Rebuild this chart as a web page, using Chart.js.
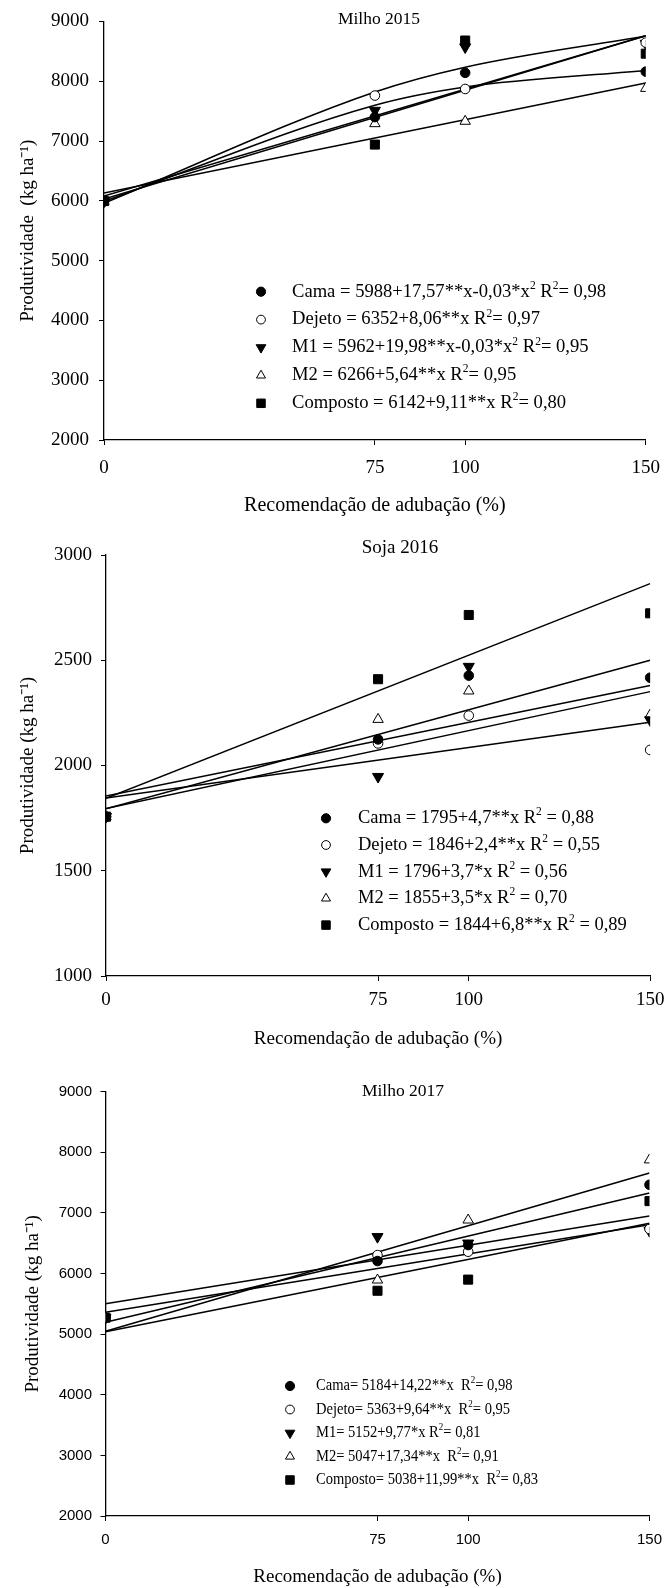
<!DOCTYPE html>
<html><head><meta charset="utf-8">
<script src="https://cdn.jsdelivr.net/npm/chart.js@4.4.1/dist/chart.umd.min.js"></script>
<style>
html,body{margin:0;padding:0;background:#fff;}
#wrap{position:relative;width:672px;height:1588px;overflow:hidden;}
.c{position:absolute;left:0;width:672px;}
canvas{display:block;}
</style></head><body>
<div id="wrap">
<div class="c" style="top:0px;height:520px"><canvas id="c1" width="672" height="520"></canvas></div>
<div class="c" style="top:520px;height:534px"><canvas id="c2" width="672" height="534"></canvas></div>
<div class="c" style="top:1054px;height:534px"><canvas id="c3" width="672" height="534"></canvas></div>
</div>
<script>
// ---------------- DATA ----------------
const doses = [0, 75, 100, 150];
const xTickValues = [0, 75, 100, 150];
const seriesNames = ['Cama', 'Dejeto', 'M1', 'M2', 'Composto'];
const xAxisTitle = 'Recomendação de adubação (%)';
const fitCurveX = [0, 75, 100, 150];
const fitLineX = [0, 150];

// Milho 2015
const m15Title = 'Milho 2015';
const m15YTitle = 'Produtividade  (kg ha⁻¹)';
const m15YTicks = [2000, 3000, 4000, 5000, 6000, 7000, 8000, 9000];
const m15Cama = [5995, 7400, 8140, 8160];
const m15Dejeto = [5990, 7760, 7870, 8645];
const m15M1 = [5990, 7510, 8570, 8630];
const m15M2 = [5990, 7290, 7330, 7880];
const m15Composto = [5995, 6940, 8680, 8460];
const m15FitCama = [5990, 7598, 7903, 8180];      // curve (quadratic)
const m15FitDejeto = [6080, 8760];                // line
const m15FitM1 = [5960, 7820, 8235, 8755];        // curve (quadratic)
const m15FitM2 = [6130, 7970];                    // line
const m15FitComposto = [6030, 8760];              // line
const m15Legend = [
  'Cama = 5988+17,57**x-0,03*x^{2} R^{2}= 0,98',
  'Dejeto = 6352+8,06**x R^{2}= 0,97',
  'M1 = 5962+19,98**x-0,03*x^{2} R^{2}= 0,95',
  'M2 = 6266+5,64**x R^{2}= 0,95',
  'Composto = 6142+9,11**x R^{2}= 0,80'
];

// Soja 2016
const s16Title = 'Soja 2016';
const s16YTitle = 'Produtividade (kg ha⁻¹)';
const s16YTicks = [1000, 1500, 2000, 2500, 3000];
const s16Cama = [1757, 2124, 2427, 2417];
const s16Dejeto = [1757, 2105, 2237, 2074];
const s16M1 = [1757, 1947, 2470, 2216];
const s16M2 = [1757, 2219, 2354, 2240];
const s16Composto = [1757, 2410, 2715, 2723];
const s16FitCama = [1795, 2500];
const s16FitDejeto = [1846, 2206];
const s16FitM1 = [1796, 2351];
const s16FitM2 = [1855, 2380];
const s16FitComposto = [1844, 2864];
const s16Legend = [
  'Cama = 1795+4,7**x R^{2} = 0,88',
  'Dejeto = 1846+2,4**x R^{2} = 0,55',
  'M1 = 1796+3,7*x R^{2} = 0,56',
  'M2 = 1855+3,5*x R^{2} = 0,70',
  'Composto = 1844+6,8**x R^{2} = 0,89'
];

// Milho 2017
const m17Title = 'Milho 2017';
const m17YTitle = 'Produtividade (kg ha⁻¹)';
const m17YTicks = [2000, 3000, 4000, 5000, 6000, 7000, 8000, 9000];
const m17Cama = [5272, 6206, 6470, 7465];
const m17Dejeto = [5270, 6305, 6360, 6735];
const m17M1 = [5270, 6607, 6500, 6705];
const m17M2 = [5270, 5893, 6883, 7875];
const m17Composto = [5272, 5716, 5900, 7195];
const m17FitCama = [5195, 7328];
const m17FitDejeto = [5363, 6805];
const m17FitM1 = [5500, 6950];
const m17FitM2 = [5047, 7658];
const m17FitComposto = [5040, 6830];
const m17Legend = [
  'Cama= 5184+14,22**x  R^{2}= 0,98',
  'Dejeto= 5363+9,64**x  R^{2}= 0,95',
  'M1= 5152+9,77*x R^{2}= 0,81',
  'M2= 5047+17,34**x  R^{2}= 0,91',
  'Composto= 5038+11,99**x  R^{2}= 0,83'
];

// ---------------- STYLE / LAYOUT ----------------
const SERIF = '"Liberation Serif", "Times New Roman", serif';
const SANS = '"Liberation Sans", Arial, sans-serif';
const markers = [
  {style: 'circle', rot: 0, r: 4.8, fill: true},
  {style: 'circle', rot: 0, r: 4.8, fill: false},
  {style: 'triangle', rot: 180, r: 6.4, fill: true},
  {style: 'triangle', rot: 0, r: 6.0, fill: false},
  {style: 'rect', rot: 0, r: 6.4, fill: true}
];

function drawMarker(ctx, m, x, y) {
  ctx.save();
  ctx.beginPath();
  const r = m.r;
  if (m.style === 'circle') {
    ctx.arc(x, y, r, 0, Math.PI * 2);
  } else if (m.style === 'rect') {
    const h = r * Math.SQRT1_2;
    ctx.rect(x - h, y - h, 2 * h, 2 * h);
  } else {
    let a = m.rot * Math.PI / 180;
    ctx.moveTo(x + Math.sin(a) * r, y - Math.cos(a) * r);
    for (let k = 1; k < 3; k++) {
      a += 2 * Math.PI / 3;
      ctx.lineTo(x + Math.sin(a) * r, y - Math.cos(a) * r);
    }
  }
  ctx.closePath();
  ctx.fillStyle = m.fill ? '#000' : '#fff';
  ctx.fill();
  ctx.lineWidth = 1;
  ctx.strokeStyle = '#000';
  ctx.stroke();
  ctx.restore();
}

function drawRich(ctx, str, x, y, size, family, sx) {
  const parts = str.split(/\^\{([^}]*)\}/);
  ctx.save();
  ctx.translate(x, y);
  ctx.scale(sx, 1);
  ctx.textBaseline = 'middle';
  ctx.textAlign = 'left';
  ctx.fillStyle = '#000';
  let cx = 0;
  parts.forEach((p, i) => {
    if (!p) return;
    const sup = i % 2 === 1;
    const fs = sup ? size * 0.62 : size;
    ctx.font = fs + 'px ' + family;
    ctx.fillText(p, cx, sup ? -size * 0.32 : 0);
    cx += ctx.measureText(p).width;
  });
  ctx.restore();
}

const overlayPlugin = {
  id: 'overlay',
  afterDraw(chart) {
    const g = chart.config.options.plugins.overlay;
    const ctx = chart.ctx;
    ctx.save();
    ctx.font = g.titleSize + 'px ' + SERIF;
    ctx.fillStyle = '#000';
    ctx.textAlign = 'center';
    ctx.textBaseline = 'middle';
    ctx.fillText(g.title, g.titleX, g.titleY);
    ctx.restore();
    g.legend.forEach((txt, i) => {
      const y = g.legY + i * g.legDy;
      drawMarker(ctx, g.legMarkers[i], g.legMarkerX, y);
      drawRich(ctx, txt, g.legTextX, y, g.legSize, SERIF, g.legScale);
    });
  }
};

const legendMarkers = [
  {style: 'circle', rot: 0, r: 4.6, fill: true},
  {style: 'circle', rot: 0, r: 4.4, fill: false},
  {style: 'triangle', rot: 180, r: 5.6, fill: true},
  {style: 'triangle', rot: 0, r: 5.2, fill: false},
  {style: 'rect', rot: 0, r: 6, fill: true}
];

function makeChart(id, d, g) {
  const datasets = [];
  d.points.forEach((vals, i) => {
    const m = markers[i];
    datasets.push({
      type: 'scatter',
      label: seriesNames[i],
      data: doses.map((x, k) => ({x: x, y: vals[k]})),
      pointStyle: m.style,
      pointRotation: m.rot,
      pointRadius: m.r,
      pointHoverRadius: m.r,
      pointBackgroundColor: m.fill ? '#000' : '#fff',
      pointBorderColor: '#000',
      pointBorderWidth: 1,
      showLine: false,
      order: 0
    });
  });
  d.fits.forEach((f, i) => {
    datasets.push({
      type: 'line',
      label: seriesNames[i] + ' (ajuste)',
      data: f.x.map((x, k) => ({x: x, y: f.y[k]})),
      borderColor: '#000',
      borderWidth: 1.5,
      pointRadius: 0,
      fill: false,
      tension: 0,
      cubicInterpolationMode: f.x.length > 2 ? 'monotone' : 'default',
      order: 1
    });
  });
  g.overlay.legMarkers = legendMarkers;
  return new Chart(document.getElementById(id), {
    type: 'scatter',
    data: {datasets: datasets},
    plugins: [overlayPlugin],
    options: {
      responsive: false,
      animation: false,
      events: [],
      layout: {padding: {left: 0, right: 672 - g.right, top: g.top, bottom: 0}},
      plugins: {
        legend: {display: false},
        tooltip: {enabled: false},
        title: {display: false},
        overlay: g.overlay
      },
      scales: {
        x: {
          type: 'linear', min: 0, max: 150,
          afterBuildTicks: s => { s.ticks = xTickValues.map(v => ({value: v})); },
          afterFit: s => { s.height = g.xH; },
          border: {display: true, color: '#000', width: 1.3},
          grid: {display: true, drawOnChartArea: false, drawTicks: true, tickLength: 5, color: '#000', lineWidth: 1},
          ticks: {color: '#000', font: {family: g.tickFamily, size: g.tickSize}, padding: g.xPad, maxRotation: 0, autoSkip: false, callback: v => String(v)},
          title: {display: true, text: xAxisTitle, color: '#000', font: {family: SERIF, size: g.xTitleSize}, padding: {top: 0, bottom: g.xTitlePad}}
        },
        y: {
          type: 'linear', min: d.yTicks[0], max: d.yTicks[d.yTicks.length - 1],
          afterBuildTicks: s => { s.ticks = d.yTicks.map(v => ({value: v})); },
          afterFit: s => { s.width = g.left; },
          border: {display: true, color: '#000', width: 1.3},
          grid: {display: true, drawOnChartArea: false, drawTicks: true, tickLength: 5, color: '#000', lineWidth: 1},
          ticks: {color: '#000', font: {family: g.tickFamily, size: g.tickSize}, padding: g.yPad, callback: v => String(v)},
          title: {display: true, text: d.yTitle, color: '#000', font: {family: SERIF, size: 19}, padding: {top: g.yTitlePad, bottom: 0}}
        }
      }
    }
  });
}

makeChart('c1', {
  yTitle: m15YTitle, yTicks: m15YTicks,
  points: [m15Cama, m15Dejeto, m15M1, m15M2, m15Composto],
  fits: [
    {x: fitCurveX, y: m15FitCama},
    {x: fitLineX, y: m15FitDejeto},
    {x: fitCurveX, y: m15FitM1},
    {x: fitLineX, y: m15FitM2},
    {x: fitLineX, y: m15FitComposto}
  ]
}, {
  left: 104, right: 656, top: 19, xH: 80,
  tickFamily: SERIF, tickSize: 19, xPad: 12, yPad: 10,
  xTitleSize: 20, xTitlePad: 2, yTitlePad: 16.6,
  overlay: {title: m15Title, titleX: 379, titleY: 19, titleSize: 17.5,
    legend: m15Legend, legMarkerX: 261, legTextX: 292, legY: 291.7, legDy: 27.9, legSize: 18.6, legScale: 1}
});

makeChart('c2', {
  yTitle: s16YTitle, yTicks: s16YTicks,
  points: [s16Cama, s16Dejeto, s16M1, s16M2, s16Composto],
  fits: [
    {x: fitLineX, y: s16FitCama},
    {x: fitLineX, y: s16FitDejeto},
    {x: fitLineX, y: s16FitM1},
    {x: fitLineX, y: s16FitM2},
    {x: fitLineX, y: s16FitComposto}
  ]
}, {
  left: 106, right: 656, top: 35, xH: 78,
  tickFamily: SERIF, tickSize: 19, xPad: 7.6, yPad: 9,
  xTitleSize: 19, xTitlePad: 3.6, yTitlePad: 16.6,
  overlay: {title: s16Title, titleX: 400, titleY: 28.3, titleSize: 19,
    legend: s16Legend, legMarkerX: 326, legTextX: 358, legY: 298.3, legDy: 26.7, legSize: 18.5, legScale: 1}
});

makeChart('c3', {
  yTitle: m17YTitle, yTicks: m17YTicks,
  points: [m17Cama, m17Dejeto, m17M1, m17M2, m17Composto],
  fits: [
    {x: fitLineX, y: m17FitCama},
    {x: fitLineX, y: m17FitDejeto},
    {x: fitLineX, y: m17FitM1},
    {x: fitLineX, y: m17FitM2},
    {x: fitLineX, y: m17FitComposto}
  ]
}, {
  left: 105.5, right: 657, top: 37.7, xH: 72,
  tickFamily: SANS, tickSize: 15, xPad: 10, yPad: 8.5,
  xTitleSize: 19, xTitlePad: 0, yTitlePad: 21.6,
  overlay: {title: m17Title, titleX: 403, titleY: 37.7, titleSize: 17.5,
    legend: m17Legend, legMarkerX: 290, legTextX: 316, legY: 332, legDy: 23.5, legSize: 16, legScale: 0.91}
});
</script>
</body></html>
